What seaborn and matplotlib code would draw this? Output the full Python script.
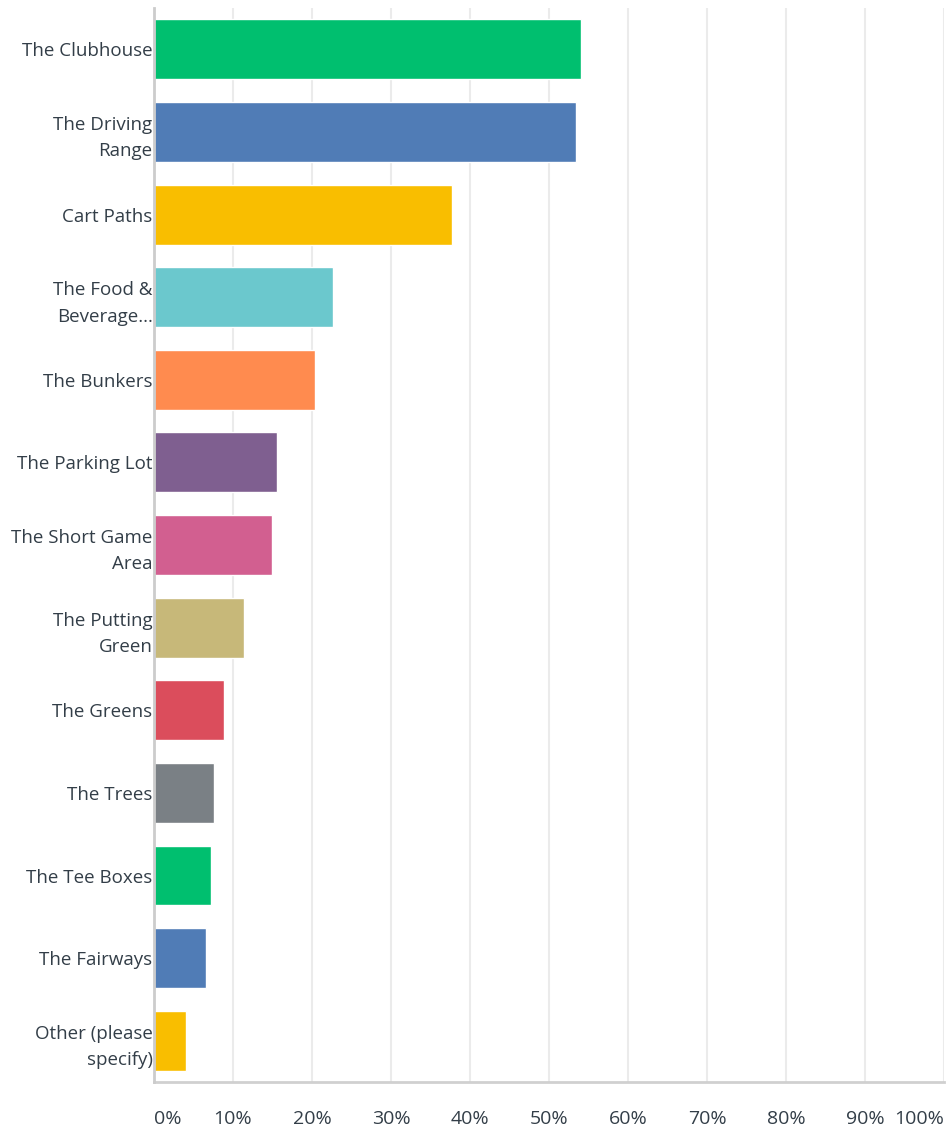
import matplotlib
matplotlib.use("Agg")
import matplotlib.pyplot as plt
import seaborn as sns
import pandas as pd

categories = ["The Clubhouse", "The Driving\nRange", "Cart Paths", "The Food &\nBeverage...",
              "The Bunkers", "The Parking Lot", "The Short Game\nArea", "The Putting\nGreen",
              "The Greens", "The Trees", "The Tee Boxes", "The Fairways", "Other (please\nspecify)"]
values = [54.1, 53.4, 37.7, 22.7, 20.4, 15.6, 15.0, 11.4, 8.9, 7.6, 7.2, 6.6, 4.0]
colors = ["#00BF6F", "#507CB6", "#F9BE00", "#6BC8CD", "#FF8B4F", "#7F5F90", "#D25F90",
          "#C7B879", "#DB4D5C", "#7A8085", "#00BF6F", "#507CB6", "#F9BE00"]
xticks = [0, 10, 20, 30, 40, 50, 60, 70, 80, 90, 100]
xticklabels = ["0%", "10%", "20%", "30%", "40%", "50%", "60%", "70%", "80%", "90%", "100%"]

sns.set_theme(style="white")
plt.rcParams['font.family'] = ['Open Sans', 'DejaVu Sans']

df = pd.DataFrame({"cat": categories, "val": values})

fig = plt.figure(figsize=(9.5, 11.26), dpi=100)
ax = fig.add_axes([0.162, 0.039, 0.8317, 0.9539])

sns.barplot(data=df, x="val", y="cat", hue="cat", palette=colors, legend=False,
            width=0.725, saturation=1, ax=ax, zorder=3)

ax.set_xlim(0, 100)
ax.set_ylim(12.5, -0.5)
ax.set_xticks(xticks)
ax.set_xticklabels(xticklabels)
ax.set_xlabel("")
ax.set_ylabel("")
ax.grid(axis="x", color="#EBEBEB", linewidth=1.5, zorder=0)
ax.grid(axis="y", visible=False)
for s in ["top", "right"]:
    ax.spines[s].set_visible(False)
ax.spines["left"].set_color("#CCCCCC")
ax.spines["left"].set_linewidth(2)
ax.spines["bottom"].set_color("#D0D0D0")
ax.spines["bottom"].set_linewidth(2)
ax.spines["left"].set_zorder(5)

ax.tick_params(axis="y", length=0, pad=1, labelsize=13.5, labelcolor="#333E48")
ax.tick_params(axis="x", length=0, pad=20, labelsize=14, labelcolor="#333E48")
for lbl in ax.get_yticklabels():
    lbl.set_horizontalalignment("right")
    lbl.set_multialignment("right")
    lbl.set_linespacing(1.6)
xl = ax.get_xticklabels()
xl[0].set_horizontalalignment("left")
xl[-1].set_horizontalalignment("right")

fig.savefig("out.png", dpi=100)
